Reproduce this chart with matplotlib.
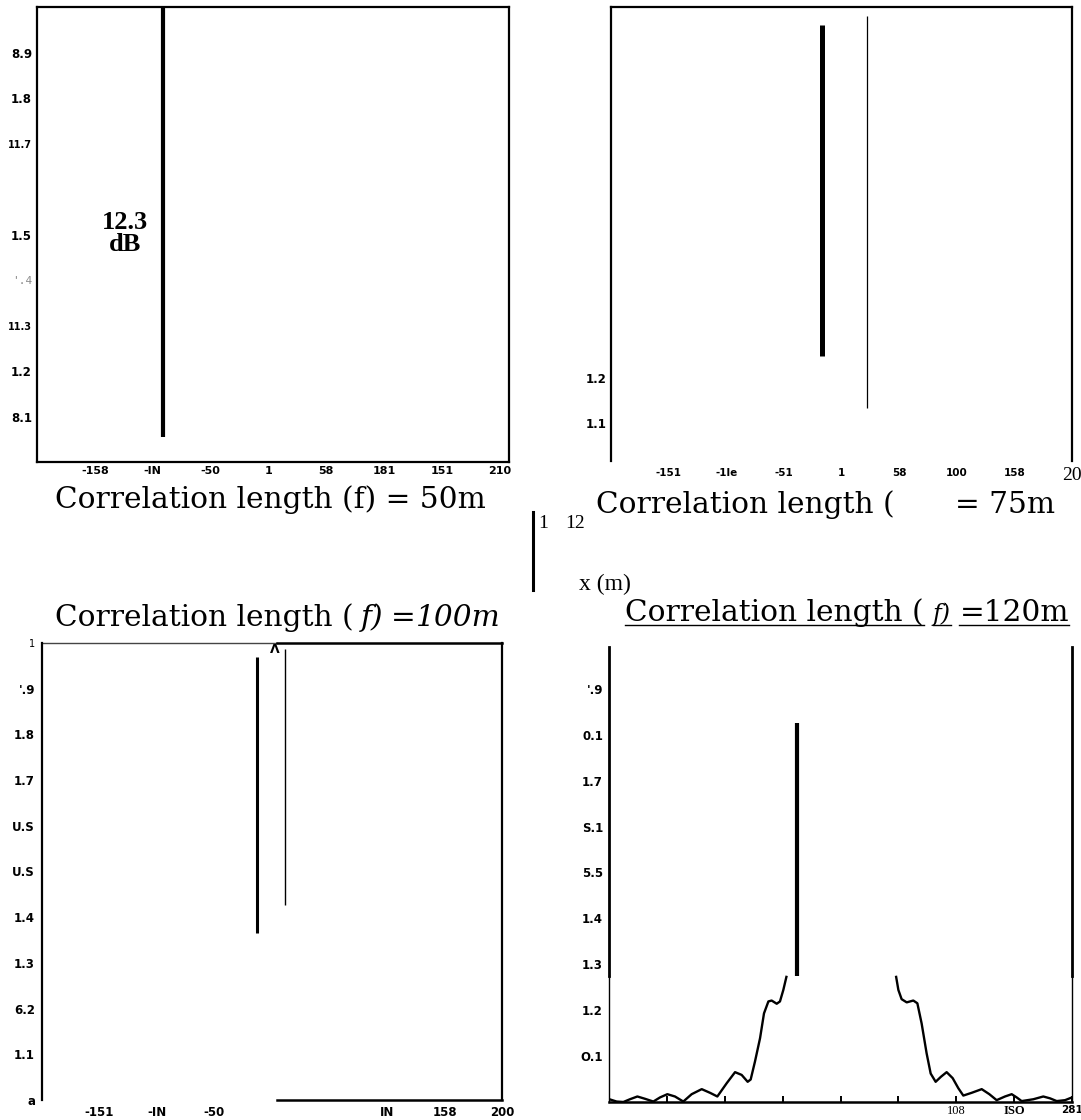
import matplotlib
matplotlib.use("Agg")
import matplotlib.pyplot as plt
from matplotlib.lines import Line2D
from matplotlib.ticker import FixedLocator

# ---------------- data ----------------
# Panel A (correlation length 50 m)
a_xticks = [-150, -100, -50, 0, 50, 100, 150, 200]
a_xlabels = ["-158", "-IN", "-50", "1", "58", "181", "151", "210"]
a_yticks = [0.9, 0.8, 0.7, 0.5, 0.4, 0.3, 0.2, 0.1]
a_ylabels = ["8.9", "1.8", "11.7", "1.5", "'.4", "11.3", "1.2", "8.1"]
a_peak_x = [-91]
a_peak_lo = [0.055]
a_peak_hi = [1.0]
a_note = "12.3\ndB"
a_note_x, a_note_y = -124, 0.503

# Panel B (75 m)
b_xticks = [-150, -100, -50, 0, 50, 100, 150]
b_xlabels = ["-151", "-1le", "-51", "1", "58", "100", "158"]
b_yticks = [0.2, 0.1]
b_ylabels = ["1.2", "1.1"]
b_thick_x, b_thick_lo, b_thick_hi = [-17], [0.249], [0.984]
b_thin_x, b_thin_lo, b_thin_hi = [22], [0.133], [1.004]

# Panel C (100 m)
c_xticks = [-150, -100, -50, 100, 150, 200]
c_xlabels = ["-151", "-IN", "-50", "IN", "158", "200"]
c_topticks = [-150, -100, -50]
c_yticks = [0.0, 0.1, 0.2, 0.3, 0.4, 0.5, 0.6, 0.7, 0.8, 0.9, 1.0]
c_ylabels = ["a", "1.1", "6.2", "1.3", "1.4", "U.S", "U.S", "1.7", "1.8", "'.9", "1"]
c_thick_x, c_thick_lo, c_thick_hi = [-13], [0.365], [0.969]
c_thin_x, c_thin_lo, c_thin_hi = [11], [0.427], [0.987]

# Panel D (120 m)
d_xticks = [-150, -100, -50, 0, 50, 100, 150, 200]
d_xlabels = ["", "", "", "", "", "108", "ISO", "281"]
d_yticks = [0.1, 0.2, 0.3, 0.4, 0.5, 0.6, 0.7, 0.8, 0.9]
d_ylabels = ["O.1", "1.2", "1.3", "1.4", "5.5", "S.1", "1.7", "0.1", "'.9"]
d_minor_y = [0.1, 0.2]
d_left_x = [-199.7, -193.4, -187.6, -181.9, -175.5, -168.9, -161.7, -155.9, -149.6,
            -143.0, -135.8, -128.6, -119.9, -112.7, -106.4, -98.3, -91.1, -85.4,
            -80.2, -77.6, -73.9, -69.5, -66.1, -62.3, -59.5, -55.1, -52.3, -49.4, -46.5]
d_left_y = [0.006, 0.001, 0.000, 0.006, 0.012, 0.007, 0.001, 0.010, 0.017,
            0.012, 0.001, 0.017, 0.028, 0.020, 0.012, 0.041, 0.065, 0.059,
            0.044, 0.049, 0.088, 0.139, 0.193, 0.219, 0.221, 0.214, 0.219, 0.244, 0.275]
d_right_x = [47.9, 50.0, 52.8, 57.2, 62.9, 66.4, 70.1, 74.4, 77.9, 82.2, 86.8, 91.7,
             96.9, 101.8, 106.1, 113.3, 122.0, 128.6, 134.9, 142.1, 147.9, 152.2,
             156.5, 166.6, 175.2, 181.0, 186.8, 194.0, 200.0]
d_right_y = [0.275, 0.244, 0.224, 0.217, 0.221, 0.215, 0.171, 0.106, 0.062, 0.044, 0.055,
             0.065, 0.052, 0.030, 0.014, 0.020, 0.028, 0.017, 0.004, 0.012, 0.017, 0.010,
             0.002, 0.006, 0.012, 0.008, 0.002, 0.004, 0.010]
d_peak_x, d_peak_lo, d_peak_hi = [-38], [0.275], [0.826]

titles = ["Correlation length (f) = 50m", "Correlation length (", "= 75m",
          "f)", "=", "100m", "=120m"]

# ---------------- figure ----------------
W, H = 1081, 1120
fig = plt.figure(figsize=(W / 100, H / 100), dpi=100)
renderer = fig.canvas.get_renderer()

TICKFONT = dict(family="DejaVu Sans", weight="bold", size=8.5)


def axes_px(l, t, r, b):
    return fig.add_axes([l / W, 1 - b / H, (r - l) / W, (b - t) / H])


def style_labels(labels, special):
    for lab in labels:
        lab.set_fontfamily(TICKFONT["family"])
        lab.set_fontweight(TICKFONT["weight"])
        lab.set_fontsize(TICKFONT["size"])
        if lab.get_text() in special:
            for k, v in special[lab.get_text()].items():
                getattr(lab, "set_" + k)(v)


# ---- Panel A ----
axA = axes_px(37, 7, 509, 462)
axA.set_xlim(-200, 208)
axA.set_ylim(0, 1.0)
axA.set_xticks(a_xticks)
axA.set_xticklabels(a_xlabels)
axA.set_yticks(a_yticks)
axA.set_yticklabels(a_ylabels)
axA.tick_params(length=0)
axA.tick_params(axis="x", pad=3.2)
axA.tick_params(axis="y", pad=3.6)
style_labels(axA.get_xticklabels(), {})
for lab in axA.get_xticklabels():
    lab.set_fontsize(8)
style_labels(axA.get_yticklabels(),
             {"'.4": dict(color="#8a8a8a", fontfamily="DejaVu Sans Mono", fontweight="normal", fontsize=8),
              "11.7": dict(fontsize=7), "11.3": dict(fontsize=7)})
for s in axA.spines.values():
    s.set_linewidth(1.6)
axA.vlines(a_peak_x, a_peak_lo, a_peak_hi, colors="black", linewidth=3.0)
axA.text(a_note_x, a_note_y, a_note, ha="center", va="center", fontsize=19,
         fontfamily="Liberation Serif", fontweight="bold", linespacing=0.95)

# ---- Panel B ----
axB = axes_px(611, 7, 1072, 461)
axB.set_xlim(-200, 200)
axB.set_ylim(0.0156, 1.0244)
axB.set_xticks(b_xticks)
axB.set_xticklabels(b_xlabels)
axB.set_yticks(b_yticks)
axB.set_yticklabels(b_ylabels)
axB.tick_params(length=0)
axB.tick_params(axis="x", pad=5)
axB.tick_params(axis="y", pad=3)
style_labels(axB.get_xticklabels(), {})
for lab in axB.get_xticklabels():
    lab.set_fontsize(7.5)
style_labels(axB.get_yticklabels(), {})
axB.spines["bottom"].set_visible(False)
for k in ("left", "right", "top"):
    axB.spines[k].set_linewidth(1.6)
axB.vlines(b_thick_x, b_thick_lo, b_thick_hi, colors="black", linewidth=3.6)
axB.vlines(b_thin_x, b_thin_lo, b_thin_hi, colors="black", linewidth=0.9)

# ---- Panel C ----
axC = axes_px(42, 643, 502, 1100)
axC.set_xlim(-200, 200)
axC.set_ylim(0, 1.0)
axC.set_xticks(c_xticks)
axC.set_xticklabels(c_xlabels)
axC.set_yticks(c_yticks)
axC.set_yticklabels(c_ylabels)
axC.xaxis.set_minor_locator(FixedLocator(c_topticks))
axC.tick_params(which="major", length=0)
axC.tick_params(axis="x", which="major", pad=4.3)
axC.tick_params(axis="y", which="major", pad=5)
axC.tick_params(axis="x", which="minor", top=True, bottom=False, direction="in",
                length=3.6, width=1.2)
style_labels(axC.get_xticklabels(), {})
style_labels(axC.get_yticklabels(),
             {"1": dict(fontweight="normal", fontsize=7, fontfamily="DejaVu Sans")})
axC.spines["bottom"].set_visible(False)
axC.spines["top"].set_visible(False)
axC.spines["left"].set_linewidth(1.6)
axC.spines["right"].set_linewidth(1.6)
axC.add_line(Line2D([0.0, 0.511], [1, 1], transform=axC.transAxes, color="#444444",
                    linewidth=1.0, clip_on=False))
axC.add_line(Line2D([0.511, 1.0], [1, 1], transform=axC.transAxes, color="black",
                    linewidth=1.8, clip_on=False))
axC.add_line(Line2D([0.511, 1.0], [0, 0], transform=axC.transAxes, color="black",
                    linewidth=1.8, clip_on=False))
axC.vlines(c_thick_x, c_thick_lo, c_thick_hi, colors="black", linewidth=2.2)
axC.vlines(c_thin_x, c_thin_lo, c_thin_hi, colors="black", linewidth=1.0)
axC.text(2.0, 0.985, "\u039b", transform=axC.transData, ha="center", va="center",
         fontsize=9, fontweight="bold", fontfamily="DejaVu Sans")

# ---- Panel D ----
axD = axes_px(609, 647, 1072, 1102)
axD.set_xlim(-200, 200)
axD.set_ylim(0, 0.991)
axD.set_xticks(d_xticks)
axD.set_xticklabels(d_xlabels)
axD.set_yticks(d_yticks)
axD.set_yticklabels(d_ylabels)
axD.yaxis.set_minor_locator(FixedLocator(d_minor_y))
axD.tick_params(axis="y", which="major", length=0, pad=4.3)
axD.tick_params(axis="y", which="minor", left=True, right=True, direction="in",
                length=3.5, width=1.2)
axD.tick_params(axis="x", which="major", direction="in", length=4.3, width=1.4, pad=2.2)
style_labels(axD.get_xticklabels(),
             {"108": dict(fontfamily="Liberation Serif", fontweight="normal", fontsize=9),
              "ISO": dict(fontfamily="Liberation Serif", fontweight="bold", fontsize=9),
              "281": dict(fontsize=7.5, horizontalalignment="center")})
style_labels(axD.get_yticklabels(), {})
axD.spines["top"].set_visible(False)
axD.spines["bottom"].set_linewidth(1.8)
axD.spines["left"].set_visible(False)
axD.spines["right"].set_visible(False)
cut = 0.275 / 0.991
for xa in (0.0, 1.0):
    axD.add_line(Line2D([xa, xa], [cut, 1.0], transform=axD.transAxes, color="black",
                        linewidth=2.0, clip_on=False))
    axD.add_line(Line2D([xa, xa], [0.0, cut], transform=axD.transAxes, color="black",
                        linewidth=1.0, clip_on=False))
axD.plot(d_left_x, d_left_y, color="black", linewidth=1.7, solid_capstyle="butt")
axD.plot(d_right_x, d_right_y, color="black", linewidth=1.7, solid_capstyle="butt")
axD.vlines(d_peak_x, d_peak_lo, d_peak_hi, colors="black", linewidth=3.0)

# ---------------- titles & loose text ----------------
SERIF = "DejaVu Serif"


def run(x0, y_base, pieces, size):
    arts, x = [], x0
    for s, kw in pieces:
        if isinstance(s, (int, float)):
            x += s * size * 100 / 72
            continue
        kw2 = dict(fontfamily=SERIF)
        kw2.update(kw)
        fsz = size * kw2.pop("scale", 1.0)
        t = fig.text(x / W, 1 - y_base / H, s, fontsize=fsz, ha="left", va="baseline", **kw2)
        arts.append(t)
        x = t.get_window_extent(renderer).x1
    return arts, x


# fit the font size on title 1
tmp, xe = run(55, 508, [(titles[0], {})], 18)
size = 18 * (486 - 55) / (xe - 55)
for t in tmp:
    t.remove()

run(55, 508, [(titles[0], {})], size)
run(596, 513, [(titles[1], {})], size)
t2, _ = run(0, 513, [(titles[2], {})], size)
bb = t2[0].get_window_extent(renderer)
t2[0].set_x((1055 - bb.width) / W)

run(55, 626, [(titles[1], {}), (0.25, None), (titles[3], dict(style="italic")), (0.25, None),
              (titles[4], {}), (titles[5], dict(style="italic"))], size)

arts4, _ = run(625, 621, [(titles[1], {}), (0.3, None),
                          (titles[3], dict(style="italic", scale=0.8)), (0.3, None),
                          (titles[6], {})], size)
for a in arts4:
    bb = a.get_window_extent(renderer)
    yy = 1 - 625 / H
    fig.add_artist(Line2D([bb.x0 / W, bb.x1 / W], [yy, yy], color="black", linewidth=1.0))

# stray marks in the middle
fig.add_artist(Line2D([533 / W, 533 / W], [1 - 512 / H, 1 - 590 / H], color="black", linewidth=2.2))
fig.text(538 / W, 1 - 528 / H, "1", fontsize=14, fontfamily="Liberation Serif",
         ha="left", va="baseline")
fig.text(565 / W, 1 - 528 / H, "12", fontsize=14, fontfamily="Liberation Serif",
         ha="left", va="baseline")
fig.text(579 / W, 1 - 590 / H, "x (m)", fontsize=17, fontfamily="Liberation Serif",
         ha="left", va="baseline")
fig.text(1062 / W, 1 - 480 / H, "20", fontsize=14, fontfamily="Liberation Serif",
         ha="left", va="baseline")

fig.savefig("out.png", dpi=100)
